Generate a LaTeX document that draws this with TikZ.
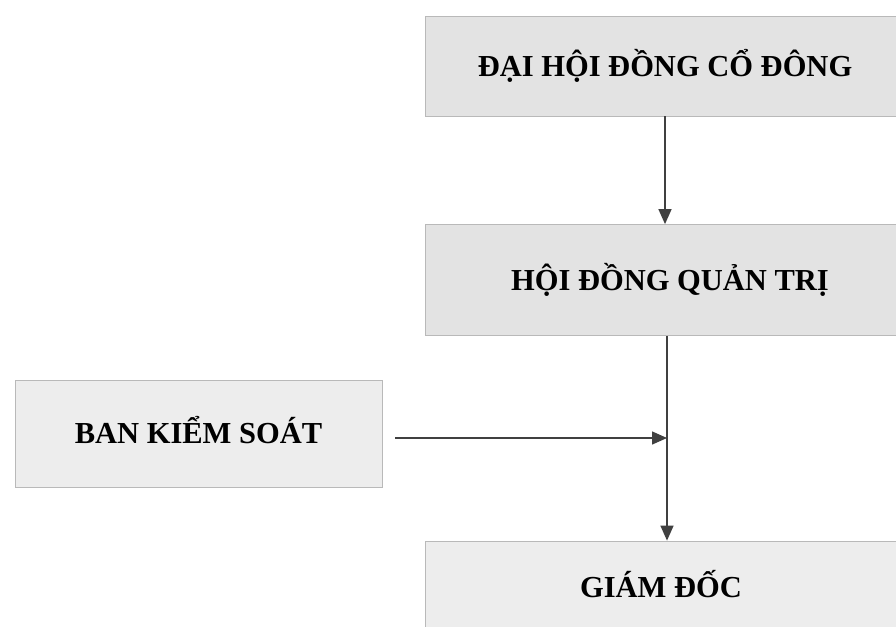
\documentclass[tikz,border=0pt]{standalone}
\usepackage{fontspec}
\setmainfont{Liberation Serif}
\usetikzlibrary{arrows.meta}
\begin{document}
\begin{tikzpicture}[x=1pt,y=-1pt,
  box/.style={draw=gray!55, line width=0.8pt, fill=black!11,
    font=\bfseries\fontsize{30.5}{36}\selectfont,
    text height=22pt, text depth=2pt, inner sep=0pt, anchor=center},
  lightbox/.style={box, fill=black!7},
  conn/.style={draw=black!75, line width=1.4pt, -{Triangle[length=15pt,width=13pt]}}]
\clip (0,0) rectangle (896,626);
\fill[white] (0,0) rectangle (896,626);
\node[box, minimum width=480pt, minimum height=100pt] (dh) at (665,66) {ĐẠI HỘI ĐỒNG CỔ ĐÔNG};
\node[box, minimum width=490pt, minimum height=111pt] (hd) at (670,280) {HỘI ĐỒNG QUẢN TRỊ};
\node[lightbox, minimum width=367pt, minimum height=107pt] (bks) at (198.5,433.5) {BAN KIỂM SOÁT};
\node[lightbox, minimum width=472pt, minimum height=92pt] (gd) at (661,587) {GIÁM ĐỐC};
\coordinate (j) at (667,438);
\draw[conn] (dh.south) -- (dh.south |- hd.north);
\draw[conn] (hd.south -| j) -- (gd.north -| j);
\draw[conn, shorten <=13pt] (bks.east |- j) -- (j);
\end{tikzpicture}
\end{document}
